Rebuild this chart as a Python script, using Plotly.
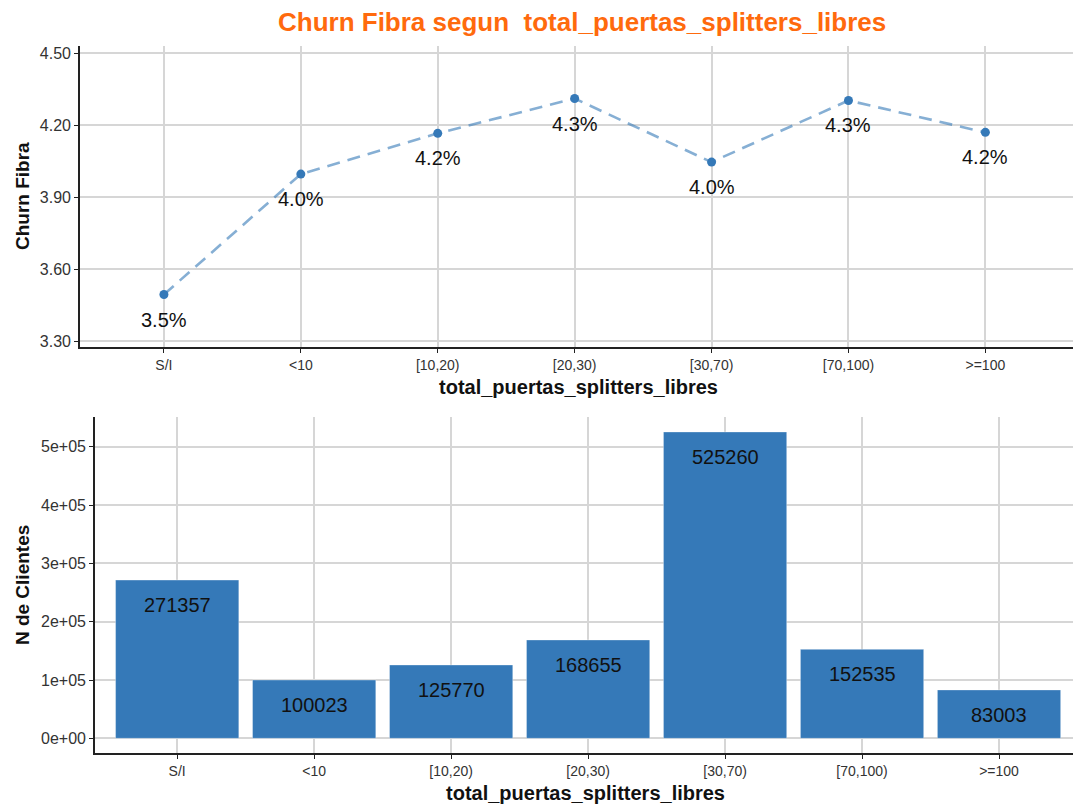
import plotly.graph_objects as go

# Categories of free splitter ports
categorias = ["S/I", "<10", "[10,20)", "[20,30)", "[30,70)", "[70,100)", ">=100"]

# Fibre churn (%) per category
churn = [3.495, 3.997, 4.167, 4.312, 4.047, 4.304, 4.171]

# Number of customers per category
clientes = [271357, 100023, 125770, 168655, 525260, 152535, 83003]

# Tick labels
churn_ticks = [3.30, 3.60, 3.90, 4.20, 4.50]
clientes_ticks = [0, 100000, 200000, 300000, 400000, 500000]
clientes_ticktext = ["0e+00", "1e+05", "2e+05", "3e+05", "4e+05", "5e+05"]

W, H = 1073, 808
AZUL = "#3579B8"
GRID = "#D6D6D6"
FONT = "Liberation Sans, Arial, sans-serif"

fig = go.Figure()

# Line + points for churn
fig.add_trace(go.Scatter(
    x=categorias, y=churn, mode="lines+markers",
    line=dict(color="rgba(53,121,184,0.6)", width=2.6, dash="13px,8px"),
    marker=dict(color=AZUL, size=9),
    xaxis="x", yaxis="y", showlegend=False, cliponaxis=False,
))

# Bars for customer count
fig.add_trace(go.Bar(
    x=categorias, y=clientes, width=0.9,
    marker=dict(color=AZUL, line=dict(color="rgba(255,255,255,0.35)", width=1)),
    xaxis="x2", yaxis="y2", showlegend=False,
))

annotations = []
for c, v in zip(categorias, churn):
    annotations.append(dict(
        x=c, y=v, xref="x", yref="y", text=f"{v:.1f}%", showarrow=False,
        yshift=-25, font=dict(family=FONT, size=20, color="#111111"),
    ))
for c, v in zip(categorias, clientes):
    annotations.append(dict(
        x=c, y=v, xref="x2", yref="y2", text=f"{v}", showarrow=False,
        yshift=-25, font=dict(family=FONT, size=20, color="#111111"),
    ))

def px_x(p):
    return p / W

def px_y(p):
    return 1 - p / H

# Title and axis titles
annotations += [
    dict(text="<b>Churn Fibra segun  total_puertas_splitters_libres</b>",
         x=px_x(582), y=px_y(21), xref="paper", yref="paper", showarrow=False,
         xanchor="center", yanchor="middle",
         font=dict(family=FONT, size=26, color="#FF6A0D")),
    dict(text="<b>total_puertas_splitters_libres</b>",
         x=px_x(578), y=px_y(388), xref="paper", yref="paper", showarrow=False,
         xanchor="center", yanchor="middle",
         font=dict(family=FONT, size=20, color="#111111")),
    dict(text="<b>total_puertas_splitters_libres</b>",
         x=px_x(585), y=px_y(796), xref="paper", yref="paper", showarrow=False,
         xanchor="center", yanchor="middle",
         font=dict(family=FONT, size=20, color="#111111")),
    dict(text="<b>Churn Fibra</b>", textangle=-90,
         x=px_x(22), y=px_y(196), xref="paper", yref="paper", showarrow=False,
         xanchor="center", yanchor="middle",
         font=dict(family=FONT, size=19, color="#111111")),
    dict(text="<b>N de Clientes</b>", textangle=-90,
         x=px_x(22), y=px_y(587), xref="paper", yref="paper", showarrow=False,
         xanchor="center", yanchor="middle",
         font=dict(family=FONT, size=19, color="#111111")),
]

axis_common = dict(
    showgrid=True, gridcolor=GRID, gridwidth=1.5,
    showline=True, linecolor="#222222", linewidth=1.6,
    ticks="outside", ticklen=4, tickcolor="#222222", tickwidth=1,
    zeroline=False,
)

fig.update_layout(
    width=W, height=H,
    margin=dict(l=0, r=0, t=0, b=0),
    paper_bgcolor="white", plot_bgcolor="white",
    font=dict(family=FONT, color="#333333"),
    xaxis=dict(domain=[px_x(80), 1], anchor="y", range=[-0.613, 6.64],
               tickfont=dict(size=14, color="#333333"), **axis_common),
    yaxis=dict(domain=[px_y(348), px_y(45)], anchor="x", range=[3.275, 4.532],
               tickvals=churn_ticks, tickformat=".2f",
               tickfont=dict(size=16, color="#333333"), **axis_common),
    xaxis2=dict(domain=[px_x(95), 1], anchor="y2", range=[-0.6, 6.54],
                tickfont=dict(size=14, color="#333333"), **axis_common),
    yaxis2=dict(domain=[px_y(756), px_y(418)], anchor="x2",
                range=[-25600, 551000],
                tickvals=clientes_ticks, ticktext=clientes_ticktext,
                tickfont=dict(size=16, color="#333333"), **axis_common),
    annotations=annotations,
    bargap=0.1,
)

fig.write_html("out.html")
